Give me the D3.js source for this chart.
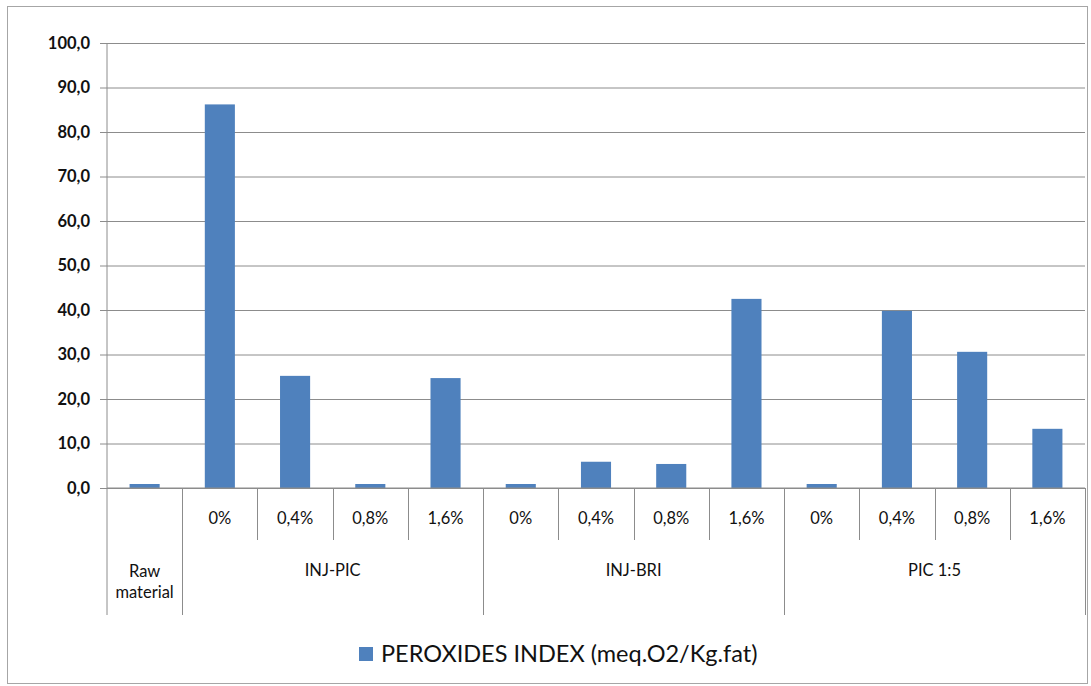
<!DOCTYPE html>
<html><head><meta charset="utf-8">
<script src="https://cdn.jsdelivr.net/npm/d3@7"></script>
<style>html,body{margin:0;padding:0;background:#fff;}svg{display:block;}</style>
</head><body>
<script>
const catGroup = ["Raw material","INJ-PIC","INJ-PIC","INJ-PIC","INJ-PIC","INJ-BRI","INJ-BRI","INJ-BRI","INJ-BRI","PIC 1:5","PIC 1:5","PIC 1:5","PIC 1:5"];
const catSub = ["","0%","0,4%","0,8%","1,6%","0%","0,4%","0,8%","1,6%","0%","0,4%","0,8%","1,6%"];
const values = [0.9, 86.2, 25.2, 0.9, 24.7, 0.9, 5.9, 5.4, 42.5, 0.9, 39.8, 30.6, 13.3];
const yTicks = [0,10,20,30,40,50,60,70,80,90,100];
const seriesName = "PEROXIDES INDEX (meq.O2/Kg.fat)";

const W = 1091, H = 686;
const m = {left:107, right:1085, top:43, bottom:488};
const font = "Lato, 'Open Sans', sans-serif";
const grid = "#8c8c8c";

const svg = d3.select("body").append("svg").attr("width",W).attr("height",H);
svg.append("rect").attr("x",7.5).attr("y",6.5).attr("width",1080).attr("height",677)
  .attr("fill","#fff").attr("stroke","#a6a6a6").attr("stroke-width",1);

const idx = d3.range(values.length);
const x = d3.scaleBand().domain(idx).range([m.left,m.right]).paddingInner(0).paddingOuter(0);
const y = d3.scaleLinear().domain([0,100]).range([m.bottom,m.top]);
const fmt = v => d3.format(".1f")(v).replace(".",",");

// gridlines + y axis
const yAxis = d3.axisLeft(y).tickValues(yTicks).tickFormat(fmt).tickSize(7).tickPadding(10);
const gy = svg.append("g").attr("transform",`translate(${m.left},0)`).call(yAxis);
gy.select(".domain").remove();
gy.selectAll(".tick line").attr("stroke",grid).attr("x2",-7).attr("x1",m.right-m.left);
gy.selectAll(".tick text").attr("font-family",font).attr("font-size",16.5).attr("font-weight","bold").attr("fill","#111");

// bars
const bw = x.bandwidth()/2.5;
svg.append("g").selectAll("rect").data(idx).join("rect")
  .attr("x",i => x(i)+(x.bandwidth()-bw)/2)
  .attr("y",i => y(values[i]))
  .attr("width",bw)
  .attr("height",i => y(0)-y(values[i]))
  .attr("fill","#4f81bd");

// axis lines
svg.append("line").attr("x1",m.left).attr("x2",m.left).attr("y1",m.top).attr("y2",615).attr("stroke",grid);

// category ticks
const axisG = svg.append("g");
idx.forEach(i => {
  const xr = x(i)+x.bandwidth();
  const isGroupEnd = (i === idx.length-1) || catGroup[i+1] !== catGroup[i];
  axisG.append("line").attr("x1",Math.round(xr)+0.5).attr("x2",Math.round(xr)+0.5)
    .attr("y1",m.bottom).attr("y2",isGroupEnd?615:540).attr("stroke",grid);
  if (catSub[i]) {
    axisG.append("text").attr("x",x(i)+x.bandwidth()/2).attr("y",524)
      .attr("text-anchor","middle").attr("font-family",font).attr("font-size",16.5).attr("fill","#111")
      .text(catSub[i]);
  }
});
// group labels
const groups = Array.from(new Set(catGroup));
groups.forEach(g => {
  const ids = idx.filter(i => catGroup[i] === g);
  const cx = (x(ids[0]) + x(ids[ids.length-1]) + x.bandwidth())/2;
  const words = g === "Raw material" ? ["Raw","material"] : [g];
  words.forEach((w,k) => {
    axisG.append("text").attr("x",cx).attr("y",words.length>1 ? 577+k*21 : 576)
      .attr("text-anchor","middle").attr("font-family",font).attr("font-size",16.5).attr("fill","#111").text(w);
  });
});
// x-axis baseline
svg.append("line").attr("x1",m.left).attr("x2",m.right).attr("y1",y(0)).attr("y2",y(0)).attr("stroke",grid);

// legend
svg.append("rect").attr("x",359).attr("y",647).attr("width",14).attr("height",14).attr("fill","#4f81bd");
svg.append("text").attr("x",381).attr("y",662).attr("font-family",font).attr("font-size",23.5)
  .attr("fill","#111").text(seriesName);
</script>
</body></html>
